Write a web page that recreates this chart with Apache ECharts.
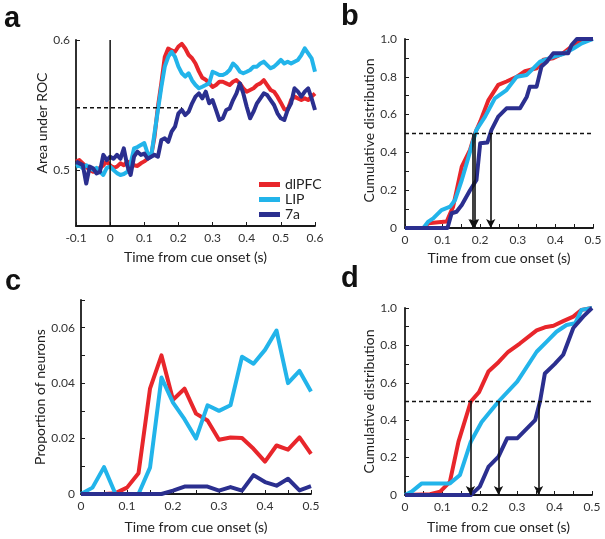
<!DOCTYPE html>
<html><head><meta charset="utf-8">
<script src="https://cdn.jsdelivr.net/npm/echarts@6/dist/echarts.min.js"></script>
<style>html,body{margin:0;padding:0;background:#fff}#c{width:605px;height:539px}</style>
</head><body><div id="c"></div>
<script>
// ---------- data ----------
const areaNames = ['dlPFC', 'LIP', '7a'];
const areaColors = ['#e8262b', '#22b4ea', '#2b2f8f'];

// panel a: area under ROC vs time
const rocTime = [-0.10,-0.09,-0.08,-0.07,-0.06,-0.05,-0.04,-0.03,-0.02,-0.01,0.00,0.01,0.02,0.03,0.04,0.05,0.06,0.07,0.08,0.09,0.10,0.11,0.12,0.13,0.14,0.15,0.16,0.17,0.18,0.19,0.20,0.21,0.22,0.23,0.24,0.25,0.26,0.27,0.28,0.29,0.30,0.31,0.32,0.33,0.34,0.35,0.36,0.37,0.38,0.39,0.40,0.41,0.42,0.43,0.44,0.45,0.46,0.47,0.48,0.49,0.50,0.51,0.52,0.53,0.54,0.55,0.56,0.57,0.58,0.59,0.60];
const rocDlpfc = [0.507,0.508,0.5055,0.503,0.5004,0.499,0.500,0.502,0.504,0.507,0.504,0.502,0.503,0.5055,0.504,0.507,0.5055,0.504,0.5035,0.5055,0.507,0.509,0.511,0.526,0.549,0.567,0.587,0.5935,0.592,0.591,0.595,0.597,0.5935,0.5885,0.586,0.582,0.576,0.571,0.5695,0.567,0.564,0.5655,0.568,0.568,0.5668,0.5655,0.568,0.5693,0.5668,0.563,0.5604,0.5617,0.563,0.5655,0.5668,0.5693,0.5655,0.5617,0.5604,0.5566,0.552,0.547,0.5464,0.554,0.5566,0.5553,0.554,0.5553,0.554,0.5566,0.559];
const rocLip = [0.503,0.504,0.5017,0.504,0.5024,0.5004,0.502,0.499,0.4966,0.502,0.503,0.5004,0.498,0.4966,0.4973,0.499,0.5055,0.517,0.518,0.5196,0.521,0.513,0.5106,0.5285,0.5464,0.564,0.5796,0.587,0.591,0.587,0.5796,0.5745,0.572,0.5745,0.569,0.5655,0.563,0.5642,0.5655,0.5668,0.5757,0.5745,0.5732,0.5732,0.5745,0.577,0.582,0.5796,0.5757,0.5745,0.5757,0.577,0.5796,0.5796,0.582,0.5834,0.5808,0.5783,0.5796,0.582,0.5847,0.582,0.5834,0.582,0.5834,0.5847,0.5885,0.5936,0.5898,0.586,0.5757];
const roc7a = [0.5068,0.5055,0.5042,0.490,0.503,0.5017,0.4978,0.499,0.512,0.508,0.5106,0.509,0.512,0.509,0.517,0.504,0.4966,0.5106,0.5144,0.512,0.513,0.509,0.5106,0.512,0.5106,0.5234,0.5247,0.522,0.5298,0.5336,0.5438,0.5464,0.5425,0.545,0.5515,0.5566,0.5591,0.5553,0.5604,0.5515,0.554,0.5464,0.5387,0.540,0.5464,0.5476,0.554,0.5591,0.5668,0.5591,0.5489,0.540,0.5451,0.5515,0.5553,0.5591,0.5578,0.554,0.5502,0.5438,0.540,0.5387,0.5464,0.5515,0.563,0.5604,0.5566,0.5604,0.563,0.5553,0.5464];
const rocThreshold = 0.548;
const rocThresholdSpan = [-0.1, 0.21];
const rocYRange = [0.4575, 0.6];

// panel b: cumulative distribution of latency (ROC)
const cdfBDlpfc = [[0,0],[0.049,0],[0.062,0.025],[0.089,0.03],[0.111,0.034],[0.128,0.113],[0.151,0.325],[0.173,0.413],[0.186,0.5],[0.2,0.563],[0.222,0.677],[0.248,0.757],[0.27,0.775],[0.297,0.8],[0.319,0.83],[0.35,0.845],[0.368,0.89],[0.394,0.898],[0.421,0.925],[0.448,0.968],[0.47,0.995],[0.5,1.0]];
const cdfBLip = [[0,0],[0.049,0],[0.062,0.034],[0.075,0.051],[0.097,0.095],[0.12,0.113],[0.133,0.148],[0.151,0.254],[0.164,0.342],[0.182,0.466],[0.19,0.519],[0.213,0.589],[0.239,0.686],[0.27,0.73],[0.297,0.8],[0.324,0.81],[0.359,0.88],[0.394,0.906],[0.421,0.92],[0.448,0.95],[0.47,0.977],[0.5,1.0]];
const cdfB7a = [[0,0],[0.113,0],[0.124,0.078],[0.137,0.086],[0.151,0.122],[0.173,0.2],[0.19,0.254],[0.2,0.448],[0.219,0.452],[0.23,0.519],[0.248,0.589],[0.27,0.633],[0.306,0.633],[0.324,0.695],[0.332,0.748],[0.35,0.748],[0.363,0.854],[0.377,0.88],[0.394,0.924],[0.434,0.924],[0.443,0.968],[0.457,1.0],[0.5,1.0]];
const medianB = [0.181, 0.185, 0.228];

// panel c: proportion of neurons vs time
const propTime = [0,0.025,0.05,0.075,0.1,0.125,0.15,0.175,0.2,0.225,0.25,0.275,0.3,0.325,0.35,0.375,0.4,0.425,0.45,0.475,0.5];
const propDlpfc = [0,0,0,0.0003,0.0023,0.0075,0.038,0.050,0.034,0.038,0.029,0.0265,0.0196,0.0204,0.0202,0.0163,0.0117,0.0175,0.016,0.0204,0.0145];
const propLip = [0,0.0023,0.0097,0,0,0,0.0095,0.042,0.033,0.027,0.020,0.032,0.030,0.032,0.0495,0.047,0.052,0.059,0.040,0.0444,0.037];
const prop7a = [0,0,0,0,0,0,0,0,0.0012,0.0027,0.0027,0.0027,0.0012,0.0025,0.0012,0.0068,0.0043,0.003,0.0055,0.0013,0.0028];

// panel d: cumulative distribution of latency (proportion)
const cdfDDlpfc = [[0,0],[0.067,0.004],[0.094,0.018],[0.12,0.07],[0.143,0.285],[0.176,0.5],[0.198,0.55],[0.223,0.66],[0.25,0.71],[0.276,0.766],[0.307,0.81],[0.352,0.88],[0.374,0.897],[0.397,0.905],[0.423,0.93],[0.45,0.954],[0.472,0.99],[0.5,1.0]];
const cdfDLip = [[0,0],[0.018,0.018],[0.045,0.062],[0.12,0.062],[0.147,0.107],[0.176,0.285],[0.205,0.39],[0.25,0.5],[0.3,0.606],[0.352,0.766],[0.379,0.82],[0.405,0.873],[0.432,0.909],[0.455,0.918],[0.472,0.99],[0.5,1.0]];
const cdfD7a = [[0,0],[0.176,0],[0.2,0.045],[0.223,0.15],[0.25,0.205],[0.273,0.303],[0.3,0.303],[0.348,0.4],[0.361,0.5],[0.374,0.65],[0.4,0.7],[0.423,0.75],[0.45,0.893],[0.477,0.955],[0.5,1.0]];
const medianD = [0.175, 0.25, 0.357];

// tick labels
const xTicksA = [-0.1,0,0.1,0.2,0.3,0.4,0.5,0.6];
const yTicksA = [0.5, 0.6];
const xTicks05 = [0,0.1,0.2,0.3,0.4,0.5];
const xMinor05 = [0,0.05,0.1,0.15,0.2,0.25,0.3,0.35,0.4,0.45,0.5];
const yTicksCdf = [0,0.2,0.4,0.6,0.8,1.0];
const yMinorCdf = [0,0.1,0.2,0.3,0.4,0.5,0.6,0.7,0.8,0.9,1.0];
const yTicksC = [0,0.02,0.04,0.06];
const yMinorC = [0,0.01,0.02,0.03,0.04,0.05,0.06,0.07];

const panelLetters = ['a','b','c','d'];
const xName = 'Time from cue onset (s)';
const yNames = ['Area under ROC','Cumulative distribution','Proportion of neurons','Cumulative distribution'];

// ---------- chart ----------
const FONT = 'Lato';
const NAME_SIZE = 14;
const LABEL_SIZE = 12;
const fmt = d => v => (Math.abs(v) < 1e-9 ? '0' : v.toFixed(d));

function xAxis(gi, min, max, labels, ticks, nameGap) {
  return {
    type: 'value', gridIndex: gi, min: min, max: max,
    name: xName, nameLocation: 'middle', nameGap: nameGap,
    nameTextStyle: { fontFamily: FONT, fontSize: NAME_SIZE, color: '#222' },
    axisLine: { onZero: false, lineStyle: { color: '#1a1a1a', width: 1.8 } },
    axisTick: { show: true, inside: true, length: 4, customValues: ticks, lineStyle: { color: '#1a1a1a', width: 1 } },
    axisLabel: { customValues: labels, formatter: fmt(1), margin: 6, fontFamily: FONT, fontSize: LABEL_SIZE, color: '#333' },
    splitLine: { show: false }
  };
}
function yAxis(gi, min, max, labels, ticks, dec, nameGap, name, margin, namePad) {
  return {
    type: 'value', gridIndex: gi, min: min, max: max,
    name: name, nameLocation: 'middle', nameGap: nameGap, nameRotate: 90,
    nameTextStyle: { fontFamily: FONT, fontSize: NAME_SIZE, color: '#222', padding: namePad || 0 },
    axisLine: { onZero: false, lineStyle: { color: '#1a1a1a', width: 1.8 } },
    axisTick: { show: true, inside: true, length: 4, customValues: ticks, lineStyle: { color: '#1a1a1a', width: 1 } },
    axisLabel: { customValues: labels, formatter: fmt(dec), margin: margin, fontFamily: FONT, fontSize: LABEL_SIZE, color: '#333' },
    splitLine: { show: false }
  };
}
function curve(name, color, data, xi, yi) {
  return { name: name, type: 'line', xAxisIndex: xi, yAxisIndex: yi, data: data,
    showSymbol: false, symbol: 'none', smooth: false, z: 2,
    lineStyle: { color: color, width: 4, join: 'round' }, itemStyle: { color: color } };
}
function zip(xs, ys) { return xs.map((x, i) => [x, ys[i]]); }
function guide(data, xi, yi, dashed, arrows) {
  const s = { type: 'line', xAxisIndex: xi, yAxisIndex: yi, data: data, showSymbol: false, symbol: 'none', z: 4, silent: true,
    lineStyle: { color: '#111', width: 1.5, type: dashed ? [4, 3] : 'solid' } };
  if (arrows) {
    s.markLine = { silent: true, symbol: ['none', 'arrow'], symbolSize: [7, 9], label: { show: false },
      lineStyle: { color: '#111', width: 1.6, type: 'solid' },
      data: arrows.map(x => [{ coord: [x, 0.5] }, { coord: [x, 0] }]) };
  }
  return s;
}

const grids = [
  { left: 76, top: 40, width: 239, height: 186 },
  { left: 405, top: 39, width: 188, height: 189 },
  { left: 81, top: 300, width: 230, height: 194 },
  { left: 405, top: 308, width: 187, height: 187 }
].map(g => Object.assign({ containLabel: false, outerBoundsMode: 'none' }, g));

const series = [
  curve(areaNames[0], areaColors[0], zip(rocTime, rocDlpfc), 0, 0),
  curve(areaNames[1], areaColors[1], zip(rocTime, rocLip), 0, 0),
  curve(areaNames[2], areaColors[2], zip(rocTime, roc7a), 0, 0),
  guide([[rocThresholdSpan[0], rocThreshold], [rocThresholdSpan[1], rocThreshold]], 0, 0, true),
  guide([[0, rocYRange[0]], [0, rocYRange[1]]], 0, 0, false),

  curve(areaNames[0], areaColors[0], cdfBDlpfc, 1, 1),
  curve(areaNames[1], areaColors[1], cdfBLip, 1, 1),
  curve(areaNames[2], areaColors[2], cdfB7a, 1, 1),
  guide([[0, 0.5], [0.5, 0.5]], 1, 1, true, medianB),

  curve(areaNames[0], areaColors[0], zip(propTime, propDlpfc), 2, 2),
  curve(areaNames[1], areaColors[1], zip(propTime, propLip), 2, 2),
  curve(areaNames[2], areaColors[2], zip(propTime, prop7a), 2, 2),

  curve(areaNames[0], areaColors[0], cdfDDlpfc, 3, 3),
  curve(areaNames[1], areaColors[1], cdfDLip, 3, 3),
  curve(areaNames[2], areaColors[2], cdfD7a, 3, 3),
  guide([[0, 0.5], [0.5, 0.5]], 3, 3, true, medianD)
];

const letterPos = [[4, 4], [341, 2], [5, 267], [341, 264]];
const option = {
  animation: false,
  backgroundColor: '#fff',
  grid: grids,
  xAxis: [
    xAxis(0, -0.1, 0.6, xTicksA, xTicksA, 24),
    xAxis(1, 0, 0.5, xTicks05, xMinor05, 23),
    xAxis(2, 0, 0.5, xTicks05, xMinor05, 26),
    xAxis(3, 0, 0.5, xTicks05, xMinor05, 25)
  ],
  yAxis: [
    yAxis(0, rocYRange[0], rocYRange[1], yTicksA, yTicksA, 1, 24, yNames[0], 6, [0, 0, 0, 20]),
    yAxis(1, 0, 1, yTicksCdf, yMinorCdf, 1, 26, yNames[1], 8, [0, 0, 0, 6]),
    yAxis(2, 0, 0.07, yTicksC, yMinorC, 2, 32, yNames[2], 6),
    yAxis(3, 0, 1, yTicksCdf, yMinorCdf, 1, 28, yNames[3], 8)
  ],
  legend: {
    data: areaNames, orient: 'vertical', left: 254, top: 172,
    icon: 'rect', itemWidth: 21, itemHeight: 5, itemGap: 0,
    textStyle: { fontFamily: FONT, fontSize: 14, color: '#222', lineHeight: 15 },
    selectedMode: false
  },
  graphic: panelLetters.map((t, i) => ({
    type: 'text', left: letterPos[i][0], top: letterPos[i][1],
    style: { text: t, font: 'bold 29px "Liberation Sans"', fill: '#111' }
  })),
  series: series
};
const chart = echarts.init(document.getElementById('c'), null, { renderer: 'canvas' });
chart.setOption(option);
</script>
</body></html>
